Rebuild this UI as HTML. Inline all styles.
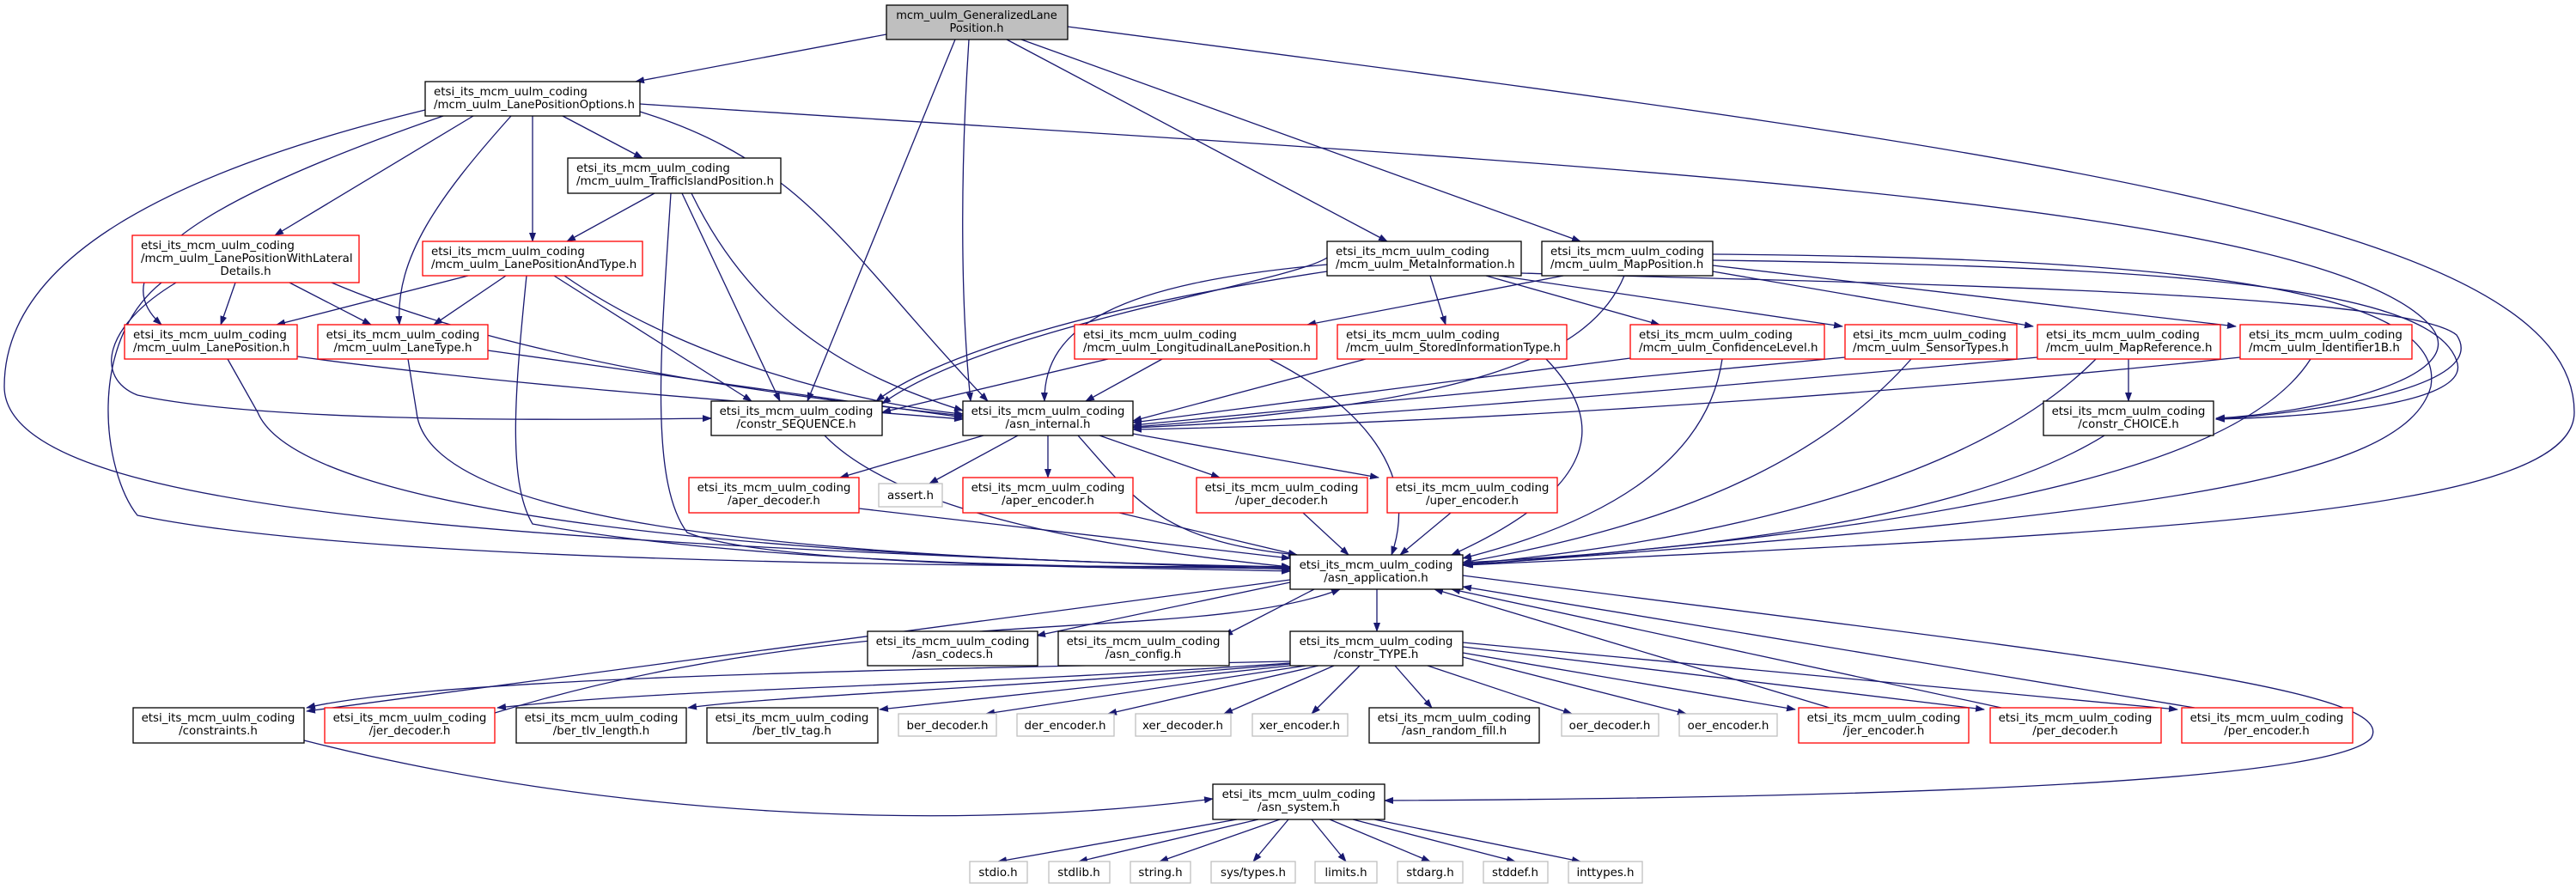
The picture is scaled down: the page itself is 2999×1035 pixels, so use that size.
<!DOCTYPE html>
<html><head><meta charset="utf-8"><style>
html,body{margin:0;padding:0;background:#fff;}
svg{display:block;}
text{font-family:"DejaVu Sans","Liberation Sans",sans-serif;font-size:13.4px;fill:#000;}
.e{fill:none;stroke:#191970;stroke-width:1.3;marker-end:url(#a);}
.b{fill:#fff;stroke:#000;stroke-width:1.3;}
.r{fill:#fff;stroke:#ff0000;stroke-width:1.3;}
.g{fill:#fff;stroke:#bfbfbf;stroke-width:1.3;}
.m{text-anchor:middle;}
</style></head><body>
<svg width="2999" height="1035" viewBox="0 0 2999 1035" xmlns="http://www.w3.org/2000/svg">
<defs><marker id="a" markerWidth="11" markerHeight="8" refX="10" refY="4" orient="auto" markerUnits="userSpaceOnUse"><path d="M0,0 L11,4 L0,8 z" fill="#191970"/></marker></defs>
<g>
<path class="e" d="M1032,40 L740,95"/>
<path class="e" d="M1128,46 C1118,200 1118,350 1130,467"/>
<path class="e" d="M1112,46 L940,467"/>
<path class="e" d="M1172,46 L1615,281"/>
<path class="e" d="M1189,46 L1840,281"/>
<path class="e" d="M1243,31 C2300,170 2997,250 2997,480 C2997,600 2500,620 1705,658"/>
<path class="e" d="M655,135 L748,184"/>
<path class="e" d="M620,135 L620,281"/>
<path class="e" d="M551,135 L320,274"/>
<path class="e" d="M516,135 C300,210 100,300 188,378"/>
<path class="e" d="M595,135 C510,230 460,300 465,378"/>
<path class="e" d="M495,128 C200,200 5,300 5,450 C5,600 600,630 1502,663"/>
<path class="e" d="M745,130 C940,190 990,300 1150,467"/>
<path class="e" d="M745,121 C1800,190 2700,230 2830,380 C2880,440 2700,480 2580,487"/>
<path class="e" d="M762,225 L660,281"/>
<path class="e" d="M781,225 C770,400 755,560 800,620 C900,660 1300,660 1502,665"/>
<path class="e" d="M794,225 L908,467"/>
<path class="e" d="M805,225 C880,380 1000,440 1121,478"/>
<path class="e" d="M274,329 L257,378"/>
<path class="e" d="M337,329 L432,378"/>
<path class="e" d="M386,329 C600,420 900,460 1121,484"/>
<path class="e" d="M205,329 C120,380 110,440 160,460 C300,490 600,490 828,487"/>
<path class="e" d="M188,329 C100,400 120,550 160,600 C400,650 1000,660 1502,660"/>
<path class="e" d="M545,321 L322,378"/>
<path class="e" d="M589,321 L505,378"/>
<path class="e" d="M613,321 C600,450 590,560 620,610 C900,660 1300,660 1502,662"/>
<path class="e" d="M645,321 L875,467"/>
<path class="e" d="M657,321 C800,420 1000,470 1121,482"/>
<path class="e" d="M346,415 C600,450 900,470 1121,488"/>
<path class="e" d="M265,418 L300,480 C350,600 900,650 1502,660"/>
<path class="e" d="M568,408 C800,440 1000,470 1121,486"/>
<path class="e" d="M475,418 L485,480 C500,620 1000,650 1502,661"/>
<path class="e" d="M960,507 C1050,600 1300,640 1502,660"/>
<path class="e" d="M1545,308 C1300,330 1215,380 1216,467"/>
<path class="e" d="M1545,316 C1250,360 1080,420 1020,467"/>
<path class="e" d="M1665,321 L1683,378"/>
<path class="e" d="M1730,321 L1932,378"/>
<path class="e" d="M1745,321 L2145,380"/>
<path class="e" d="M1771,318 C2200,330 2800,340 2860,390 C2900,450 2700,480 2580,488"/>
<path class="e" d="M1820,321 L1522,378"/>
<path class="e" d="M1545,300 C1500,330 1150,380 1027,470"/>
<path class="e" d="M1891,321 C1850,420 1700,470 1319,497"/>
<path class="e" d="M1994,316 L2367,380"/>
<path class="e" d="M1994,309 L2603,380"/>
<path class="e" d="M1994,303 C2500,310 2830,330 2860,420 C2880,470 2700,485 2580,488"/>
<path class="e" d="M1994,296 C2500,300 2850,330 2830,450 C2800,560 2500,600 1703,658"/>
<path class="e" d="M1290,418 L1027,480"/>
<path class="e" d="M1353,418 L1264,467"/>
<path class="e" d="M1478,418 C1600,480 1650,560 1620,646"/>
<path class="e" d="M1590,418 L1319,490"/>
<path class="e" d="M1800,418 C1860,480 1880,560 1690,646"/>
<path class="e" d="M1898,417 L1319,492"/>
<path class="e" d="M2005,418 C1990,520 1900,600 1703,650"/>
<path class="e" d="M2148,416 C1800,450 1500,480 1319,495"/>
<path class="e" d="M2225,418 C2100,560 1900,620 1703,655"/>
<path class="e" d="M2372,416 C1900,460 1500,490 1319,498"/>
<path class="e" d="M2478,418 L2478,467"/>
<path class="e" d="M2440,418 C2300,560 2000,630 1703,657"/>
<path class="e" d="M2608,416 C2100,470 1600,495 1319,500"/>
<path class="e" d="M2690,418 C2600,560 2200,620 1703,658"/>
<path class="e" d="M2450,507 C2300,600 2000,640 1703,655"/>
<path class="e" d="M1145,507 L978,556"/>
<path class="e" d="M1185,507 L1082,563"/>
<path class="e" d="M1220,507 L1220,556"/>
<path class="e" d="M1280,507 L1420,556"/>
<path class="e" d="M1319,505 L1605,556"/>
<path class="e" d="M1255,507 C1320,580 1350,630 1510,646"/>
<path class="e" d="M1000,592 L1502,650"/>
<path class="e" d="M1303,597 L1510,646"/>
<path class="e" d="M1517,597 L1570,646"/>
<path class="e" d="M1689,597 L1630,646"/>
<path class="e" d="M1502,678 L1207,740"/>
<path class="e" d="M1530,686 L1425,740"/>
<path class="e" d="M1603,686 L1603,735"/>
<path class="e" d="M1502,675 L357,828"/>
<path class="e" d="M1703,670 C2400,760 2800,800 2760,860 C2700,920 2000,930 1612,932"/>
<path class="e" d="M576,830 C1000,700 1400,750 1560,686"/>
<path class="e" d="M2130,824 L1670,686"/>
<path class="e" d="M2330,824 L1690,686"/>
<path class="e" d="M2555,824 L1703,683"/>
<path class="e" d="M1502,770 C1000,780 500,790 357,824"/>
<path class="e" d="M1502,772 C1100,800 800,800 579,824"/>
<path class="e" d="M1502,773 C1200,800 900,810 801,824"/>
<path class="e" d="M1502,775 L1024,826"/>
<path class="e" d="M1520,775 L1148,831"/>
<path class="e" d="M1535,775 L1290,831"/>
<path class="e" d="M1553,775 L1425,831"/>
<path class="e" d="M1583,775 L1527,831"/>
<path class="e" d="M1624,775 L1667,824"/>
<path class="e" d="M1662,775 L1830,831"/>
<path class="e" d="M1703,765 L1963,831"/>
<path class="e" d="M1703,760 L2090,826"/>
<path class="e" d="M1703,753 L2310,826"/>
<path class="e" d="M1703,748 L2535,826"/>
<path class="e" d="M354,862 C700,950 1100,970 1412,930"/>
<path class="e" d="M1440,954 L1162,1003"/>
<path class="e" d="M1465,954 L1256,1003"/>
<path class="e" d="M1490,954 L1350,1003"/>
<path class="e" d="M1500,954 L1459,1003"/>
<path class="e" d="M1527,954 L1567,1003"/>
<path class="e" d="M1548,954 L1665,1003"/>
<path class="e" d="M1575,954 L1764,1003"/>
<path class="e" d="M1600,954 L1840,1003"/>
</g>
<g>
<rect x="1032" y="6" width="211" height="40" fill="#bfbfbf" stroke="#000" stroke-width="1.3"/>
<text class="m" x="1137" y="22" style="font-size:13px">mcm_uulm_GeneralizedLane</text><text class="m" x="1137" y="37" style="font-size:13px">Position.h</text>

<rect class="b" x="495" y="95" width="250" height="40"/><text x="505" y="111">etsi_its_mcm_uulm_coding</text><text x="505" y="126">/mcm_uulm_LanePositionOptions.h</text>
<rect class="b" x="661" y="184" width="248" height="41"/><text x="671" y="200">etsi_its_mcm_uulm_coding</text><text x="671" y="215">/mcm_uulm_TrafficIslandPosition.h</text>
<rect class="r" x="154" y="274" width="264" height="55"/><text x="164" y="290">etsi_its_mcm_uulm_coding</text><text x="164" y="305">/mcm_uulm_LanePositionWithLateral</text><text class="m" x="286" y="320">Details.h</text>
<rect class="r" x="492" y="281" width="256" height="40"/><text x="502" y="297">etsi_its_mcm_uulm_coding</text><text x="502" y="312">/mcm_uulm_LanePositionAndType.h</text>
<rect class="r" x="145" y="378" width="201" height="40"/><text x="155" y="394">etsi_its_mcm_uulm_coding</text><text x="155" y="409">/mcm_uulm_LanePosition.h</text>
<rect class="r" x="370" y="378" width="198" height="40"/><text class="m" x="469" y="394">etsi_its_mcm_uulm_coding</text><text class="m" x="469" y="409">/mcm_uulm_LaneType.h</text>
<rect class="b" x="828" y="467" width="199" height="40"/><text class="m" x="927" y="483">etsi_its_mcm_uulm_coding</text><text class="m" x="927" y="498">/constr_SEQUENCE.h</text>
<rect class="b" x="1121" y="467" width="198" height="40"/><text class="m" x="1220" y="483">etsi_its_mcm_uulm_coding</text><text class="m" x="1220" y="498">/asn_internal.h</text>
<rect class="b" x="1545" y="281" width="226" height="40"/><text x="1555" y="297">etsi_its_mcm_uulm_coding</text><text x="1555" y="312">/mcm_uulm_MetaInformation.h</text>
<rect class="b" x="1795" y="281" width="199" height="40"/><text x="1805" y="297">etsi_its_mcm_uulm_coding</text><text x="1805" y="312">/mcm_uulm_MapPosition.h</text>
<rect class="r" x="1251" y="378" width="282" height="40"/><text x="1261" y="394">etsi_its_mcm_uulm_coding</text><text x="1261" y="409">/mcm_uulm_LongitudinalLanePosition.h</text>
<rect class="r" x="1557" y="378" width="267" height="40"/><text x="1567" y="394">etsi_its_mcm_uulm_coding</text><text x="1567" y="409">/mcm_uulm_StoredInformationType.h</text>
<rect class="r" x="1898" y="378" width="226" height="40"/><text x="1908" y="394">etsi_its_mcm_uulm_coding</text><text x="1908" y="409">/mcm_uulm_ConfidenceLevel.h</text>
<rect class="r" x="2148" y="378" width="200" height="40"/><text x="2157" y="394">etsi_its_mcm_uulm_coding</text><text x="2157" y="409">/mcm_uulm_SensorTypes.h</text>
<rect class="r" x="2372" y="378" width="213" height="40"/><text x="2382" y="394">etsi_its_mcm_uulm_coding</text><text x="2382" y="409">/mcm_uulm_MapReference.h</text>
<rect class="r" x="2608" y="378" width="200" height="40"/><text x="2618" y="394">etsi_its_mcm_uulm_coding</text><text x="2618" y="409">/mcm_uulm_Identifier1B.h</text>
<rect class="b" x="2379" y="467" width="198" height="40"/><text class="m" x="2478" y="483">etsi_its_mcm_uulm_coding</text><text class="m" x="2478" y="498">/constr_CHOICE.h</text>
<rect class="r" x="802" y="556" width="198" height="41"/><text class="m" x="901" y="572">etsi_its_mcm_uulm_coding</text><text class="m" x="901" y="587">/aper_decoder.h</text>
<rect class="g" x="1023" y="563" width="74" height="27"/><text class="m" x="1060" y="581">assert.h</text>
<rect class="r" x="1121" y="556" width="198" height="41"/><text class="m" x="1220" y="572">etsi_its_mcm_uulm_coding</text><text class="m" x="1220" y="587">/aper_encoder.h</text>
<rect class="r" x="1393" y="556" width="199" height="41"/><text class="m" x="1492" y="572">etsi_its_mcm_uulm_coding</text><text class="m" x="1492" y="587">/uper_decoder.h</text>
<rect class="r" x="1615" y="556" width="198" height="41"/><text class="m" x="1714" y="572">etsi_its_mcm_uulm_coding</text><text class="m" x="1714" y="587">/uper_encoder.h</text>
<rect class="b" x="1502" y="646" width="201" height="40"/><text class="m" x="1602" y="662">etsi_its_mcm_uulm_coding</text><text class="m" x="1602" y="677">/asn_application.h</text>
<rect class="b" x="1010" y="735" width="198" height="40"/><text class="m" x="1109" y="751">etsi_its_mcm_uulm_coding</text><text class="m" x="1109" y="766">/asn_codecs.h</text>
<rect class="b" x="1232" y="735" width="199" height="40"/><text class="m" x="1331" y="751">etsi_its_mcm_uulm_coding</text><text class="m" x="1331" y="766">/asn_config.h</text>
<rect class="b" x="1502" y="735" width="201" height="40"/><text class="m" x="1602" y="751">etsi_its_mcm_uulm_coding</text><text class="m" x="1602" y="766">/constr_TYPE.h</text>
<rect class="b" x="155" y="824" width="199" height="41"/><text class="m" x="254" y="840">etsi_its_mcm_uulm_coding</text><text class="m" x="254" y="855">/constraints.h</text>
<rect class="r" x="378" y="824" width="198" height="41"/><text class="m" x="477" y="840">etsi_its_mcm_uulm_coding</text><text class="m" x="477" y="855">/jer_decoder.h</text>
<rect class="b" x="601" y="824" width="198" height="41"/><text class="m" x="700" y="840">etsi_its_mcm_uulm_coding</text><text class="m" x="700" y="855">/ber_tlv_length.h</text>
<rect class="b" x="823" y="824" width="199" height="41"/><text class="m" x="922" y="840">etsi_its_mcm_uulm_coding</text><text class="m" x="922" y="855">/ber_tlv_tag.h</text>
<rect class="g" x="1046" y="831" width="114" height="26"/><text class="m" x="1103" y="849">ber_decoder.h</text>
<rect class="g" x="1184" y="831" width="113" height="26"/><text class="m" x="1240" y="849">der_encoder.h</text>
<rect class="g" x="1322" y="831" width="111" height="26"/><text class="m" x="1377" y="849">xer_decoder.h</text>
<rect class="g" x="1458" y="831" width="111" height="26"/><text class="m" x="1513" y="849">xer_encoder.h</text>
<rect class="b" x="1594" y="824" width="198" height="41"/><text class="m" x="1693" y="840">etsi_its_mcm_uulm_coding</text><text class="m" x="1693" y="855">/asn_random_fill.h</text>
<rect class="g" x="1818" y="831" width="113" height="26"/><text class="m" x="1874" y="849">oer_decoder.h</text>
<rect class="g" x="1955" y="831" width="114" height="26"/><text class="m" x="2012" y="849">oer_encoder.h</text>
<rect class="r" x="2094" y="824" width="198" height="41"/><text class="m" x="2193" y="840">etsi_its_mcm_uulm_coding</text><text class="m" x="2193" y="855">/jer_encoder.h</text>
<rect class="r" x="2317" y="824" width="199" height="41"/><text class="m" x="2416" y="840">etsi_its_mcm_uulm_coding</text><text class="m" x="2416" y="855">/per_decoder.h</text>
<rect class="r" x="2540" y="824" width="199" height="41"/><text class="m" x="2639" y="840">etsi_its_mcm_uulm_coding</text><text class="m" x="2639" y="855">/per_encoder.h</text>
<rect class="b" x="1412" y="913" width="200" height="41"/><text class="m" x="1512" y="929">etsi_its_mcm_uulm_coding</text><text class="m" x="1512" y="944">/asn_system.h</text>
<rect class="g" x="1129" y="1003" width="67" height="25"/><text class="m" x="1162" y="1020">stdio.h</text>
<rect class="g" x="1221" y="1003" width="71" height="25"/><text class="m" x="1256" y="1020">stdlib.h</text>
<rect class="g" x="1316" y="1003" width="70" height="25"/><text class="m" x="1351" y="1020">string.h</text>
<rect class="g" x="1410" y="1003" width="98" height="25"/><text class="m" x="1459" y="1020">sys/types.h</text>
<rect class="g" x="1531" y="1003" width="72" height="25"/><text class="m" x="1567" y="1020">limits.h</text>
<rect class="g" x="1627" y="1003" width="76" height="25"/><text class="m" x="1665" y="1020">stdarg.h</text>
<rect class="g" x="1727" y="1003" width="75" height="25"/><text class="m" x="1764" y="1020">stddef.h</text>
<rect class="g" x="1826" y="1003" width="86" height="25"/><text class="m" x="1869" y="1020">inttypes.h</text>
</g>
</svg>
</body></html>
